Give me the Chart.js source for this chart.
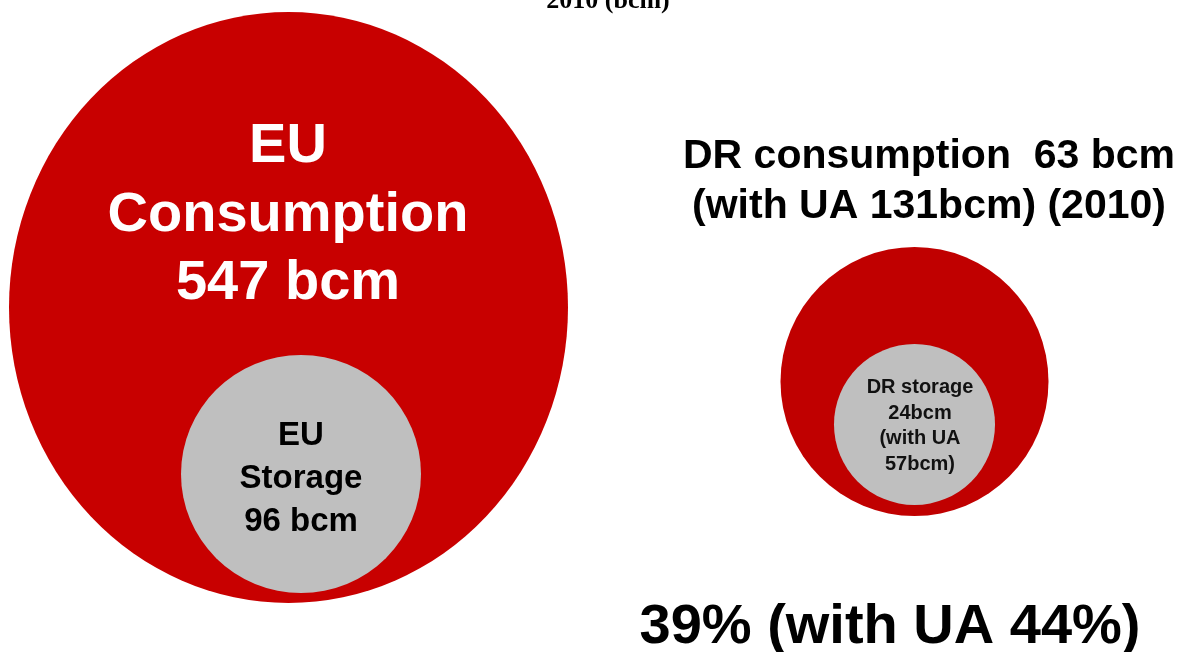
<!DOCTYPE html>
<html>
<head>
<meta charset="utf-8">
<script src="https://cdn.jsdelivr.net/npm/chart.js@4.4.1/dist/chart.umd.min.js"></script>
<style>
    html, body { margin:0; padding:0; background:#fff; }
    #Grafico1 { display:block; }
</style>
</head>
<body>
<canvas id="Grafico1" width="1186" height="652"></canvas>
<script>
// gas volumes 2010, bcm
const categorias = ['EU consumption', 'EU storage', 'DR consumption', 'DR storage'];
const volumenes = [547, 96, 63, 24];
const conUA = [null, null, 131, 57];
const porcentajes = [39, 44];

// layout, in scale units (1 unit = 1 px here)
const centroX = [288.5, 301, 914.5, 914.5];
const centroY = [307.5, 474, 381.5, 424.5];
const radioX = [279.5, 120, 134, 80.5];
const radioY = [295.5, 119, 134.5, 80.5];
const colores = ['#C80000', '#BFBFBF', '#C00000', '#BFBFBF'];

// storage bubbles go on top of the consumption ones
let datasets = categorias.map((cat, i) => ({
    label: cat,
    data: [{ x: centroX[i], y: centroY[i], r: radioX[i], v: volumenes[i] }],
    backgroundColor: colores[i],
    borderWidth: 0,
    order: i % 2 === 0 ? 2 : 1,
    clip: false
}));

// stretch the circles that are drawn as ellipses in the original
const elipse = {
    id: 'elipse',
    beforeDatasetDraw(chart, args) {
        let i = args.index;
        let k = radioY[i] / radioX[i];
        let p = chart.getDatasetMeta(i).data[0];
        let ctx = chart.ctx;
        ctx.save();
        ctx.translate(p.x, p.y);
        ctx.scale(1, k);
        ctx.translate(-p.x, -p.y);
    },
    afterDatasetDraw(chart) {
        chart.ctx.restore();
    }
};

const textos = {
    id: 'textos',
    afterDatasetsDraw(chart) {
        let ctx = chart.ctx;
        ctx.save();
        ctx.textAlign = 'center';
        ctx.textBaseline = 'alphabetic';
        function lineas(arr, x, y0, paso, font, color) {
            ctx.font = font;
            ctx.fillStyle = color;
            arr.forEach((t, j) => ctx.fillText(t, x, y0 + j * paso));
        }
        lineas(['2010 (bcm)'], 608, 8, 0, 'bold 26px "Liberation Serif"', '#000');
        lineas(['EU', 'Consumption', volumenes[0] + ' bcm'], 288, 162, 68.5, 'bold 56px "Liberation Sans"', '#fff');
        lineas(['EU', 'Storage', volumenes[1] + ' bcm'], 301, 445, 43, 'bold 33px "Liberation Sans"', '#000');
        lineas(['DR consumption  ' + volumenes[2] + ' bcm', '(with UA ' + conUA[2] + 'bcm) (2010)'], 929, 168, 50, 'bold 41px "Liberation Sans"', '#000');
        lineas(['DR storage', volumenes[3] + 'bcm', '(with UA', conUA[3] + 'bcm)'], 920, 393, 25.5, 'bold 20px "Liberation Sans"', '#111');
        lineas([porcentajes[0] + '% (with UA ' + porcentajes[1] + '%)'], 890, 643, 0, 'bold 56px "Liberation Sans"', '#000');
        ctx.restore();
    }
};

function $id(id){ return document.getElementById(id); }
let canvasG1 = $id('Grafico1').getContext('2d');

let G1 = new Chart(canvasG1, {
    type: 'bubble',
    data: { datasets: datasets },
    options: {
        responsive: false,
        animation: false,
        events: [],
        layout: { padding: 0, autoPadding: false },
        scales: {
            x: { type: 'linear', min: 0, max: 1186, display: false },
            y: { type: 'linear', min: 0, max: 652, reverse: true, display: false }
        },
        plugins: {
            legend: { display: false },
            tooltip: { enabled: false }
        }
    },
    plugins: [elipse, textos]
});
</script>
</body>
</html>
